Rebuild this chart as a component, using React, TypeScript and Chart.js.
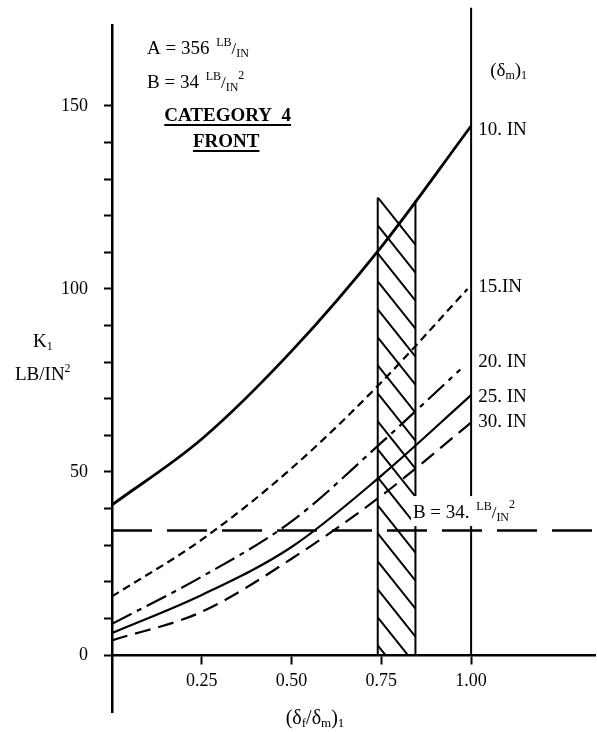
import React, { useEffect, useRef } from "react";
import { Chart, registerables } from "chart.js";

Chart.register(...registerables);

// ---------- data ----------
const xTickValues = [0.25, 0.5, 0.75, 1.0];
const yTickValues = [0, 10, 20, 30, 40, 50, 60, 70, 80, 90, 100, 110, 120, 130, 140, 150];
const yLabeledValues = [0, 50, 100, 150];

const seriesNames = ["10. IN", "15.IN", "20. IN", "25. IN", "30. IN"];

const in10X = [0, 0.25, 0.5, 0.75, 1.0];
const in10Y = [41, 59, 83, 111.5, 144.5];

const in15X = [0, 0.25, 0.5, 0.75, 0.99];
const in15Y = [16, 31.5, 51, 74.5, 100];

const in20X = [0, 0.25, 0.5, 0.75, 0.97];
const in20Y = [8.5, 21.4, 36.5, 58, 78];

const in25X = [0, 0.25, 0.5, 0.75, 1.0];
const in25Y = [6, 16.4, 29.5, 49, 71];

const in30X = [0, 0.25, 0.5, 0.75, 1.0];
const in30Y = [4, 11.8, 26.3, 43.5, 63.5];

const bValue = 34;
const bLineX = [0, 1.345];
const limitX = 1.0;
const limitY = [0, 176.8];
const bandX = [0.74, 0.845];
const bandTop = 125;

// label anchors (value coordinates)
const curveLabelX = 1.02;
const curveLabelY = [143.4, 100.5, 80, 70.5, 63.7];

const FONT = '"Liberation Serif", "Times New Roman", serif';

function zip(xs: number[], ys: number[]) {
  return xs.map((x, i) => ({ x, y: ys[i] }));
}

type Part = { t: string; size: number; dy?: number; bold?: boolean; gap?: number };

function drawRun(ctx: CanvasRenderingContext2D, x: number, y: number, parts: Part[]) {
  let cx = x;
  for (const p of parts) {
    ctx.font = `${p.bold ? "bold " : ""}${p.size}px ${FONT}`;
    ctx.fillText(p.t, cx, y + (p.dy || 0));
    cx += ctx.measureText(p.t).width + (p.gap || 0);
  }
  return cx;
}

const bandPlugin = {
  id: "band",
  beforeDatasetsDraw(chart: any) {
    const { ctx, scales } = chart;
    const x = scales.x, y = scales.y;
    const xs = x.getPixelForValue(bandX[0]);
    const xe = x.getPixelForValue(bandX[1]);
    const yt = y.getPixelForValue(bandTop);
    const yb = y.getPixelForValue(0);
    ctx.save();
    ctx.strokeStyle = "#000";
    ctx.lineWidth = 2;
    ctx.beginPath();
    ctx.rect(xs, yt, xe - xs, yb - yt);
    ctx.clip();
    const slope = 1.25;
    const step = 28;
    ctx.beginPath();
    for (let k = 0; k * step < yb - yt + 10; k++) {
      const y0 = yt + k * step;
      ctx.moveTo(xs, y0);
      ctx.lineTo(xe, y0 + (xe - xs) * slope);
    }
    ctx.stroke();
    ctx.restore();
    ctx.save();
    ctx.strokeStyle = "#000";
    ctx.lineWidth = 2;
    ctx.beginPath();
    ctx.moveTo(xs, yt);
    ctx.lineTo(xs, yb);
    ctx.moveTo(xe, yt + 3);
    ctx.lineTo(xe, yb);
    ctx.stroke();
    ctx.restore();
  },
};

const textPlugin = {
  id: "texts",
  afterDraw(chart: any) {
    const { ctx, scales } = chart;
    const x = scales.x, y = scales.y;
    ctx.save();
    ctx.fillStyle = "#000";
    ctx.strokeStyle = "#000";
    ctx.textAlign = "left";
    ctx.textBaseline = "alphabetic";

    // A and B constants
    const ax = x.getPixelForValue(0.0975);
    drawRun(ctx, ax, y.getPixelForValue(164.2), [
      { t: "A = 356 ", size: 19, gap: 2 },
      { t: "LB", size: 12, dy: -8 },
      { t: "/", size: 17 },
      { t: "IN", size: 12, dy: 3 },
    ]);
    drawRun(ctx, ax, y.getPixelForValue(155), [
      { t: "B = 34 ", size: 19, gap: 2 },
      { t: "LB", size: 12, dy: -8 },
      { t: "/", size: 17 },
      { t: "IN", size: 12, dy: 3 },
      { t: "2", size: 12, dy: -9 },
    ]);

    // category title
    ctx.font = `bold 19px ${FONT}`;
    const drawCentered = (s: string, cxv: number, byv: number) => {
      const w = ctx.measureText(s).width;
      const cx = x.getPixelForValue(cxv);
      const by = y.getPixelForValue(byv);
      ctx.fillText(s, cx - w / 2, by);
      ctx.lineWidth = 2;
      ctx.beginPath();
      ctx.moveTo(cx - w / 2, by + 4);
      ctx.lineTo(cx + w / 2, by + 4);
      ctx.stroke();
    };
    drawCentered("CATEGORY  4", 0.322, 145.9);
    drawCentered("FRONT", 0.318, 138.8);

    // (δm)1 header
    const lx = x.getPixelForValue(curveLabelX);
    drawRun(ctx, x.getPixelForValue(1.053), y.getPixelForValue(159.8) + 6, [
      { t: "(δ", size: 19 },
      { t: "m", size: 12, dy: 3 },
      { t: ")", size: 19 },
      { t: "1", size: 12, dy: 3 },
    ]);

    // curve labels
    ctx.font = `19px ${FONT}`;
    ctx.textBaseline = "middle";
    seriesNames.forEach((n, i) => {
      ctx.fillText(n, lx, y.getPixelForValue(curveLabelY[i]));
    });
    ctx.textBaseline = "alphabetic";

    // B line label with white backing
    const bx = x.getPixelForValue(0.838);
    const bby = y.getPixelForValue(37.4);
    ctx.fillStyle = "#fff";
    ctx.fillRect(bx - 2, bby - 22, 150, 30);
    ctx.fillStyle = "#000";
    drawRun(ctx, bx, bby, [
      { t: "B = 34. ", size: 19, gap: 2 },
      { t: "LB", size: 12, dy: -8 },
      { t: "/", size: 17 },
      { t: "IN", size: 12, dy: 3 },
      { t: "2", size: 12, dy: -10 },
    ]);

    // y-axis title
    drawRun(ctx, 33, 347, [
      { t: "K", size: 19 },
      { t: "1", size: 12, dy: 3 },
    ]);
    drawRun(ctx, 15, 380, [
      { t: "LB/IN", size: 19 },
      { t: "2", size: 12, dy: -8 },
    ]);

    // x-axis title
    const parts: Part[] = [
      { t: "(δ", size: 20 },
      { t: "f", size: 13, dy: 3 },
      { t: "/δ", size: 20 },
      { t: "m", size: 13, dy: 3 },
      { t: ")", size: 20 },
      { t: "1", size: 13, dy: 3 },
    ];
    let tw = 0;
    for (const p of parts) {
      ctx.font = `${p.size}px ${FONT}`;
      tw += ctx.measureText(p.t).width;
    }
    drawRun(ctx, 315 - tw / 2, 724, parts);
    ctx.restore();
  },
};

export default function App() {
  const ref = useRef<HTMLCanvasElement | null>(null);

  useEffect(() => {
    if (!ref.current) return;
    Chart.defaults.font.family = FONT;
    Chart.defaults.color = "#000";
    const black = "#000";
    const chart = new Chart(ref.current, {
      type: "line",
      data: {
        datasets: [
          {
            label: seriesNames[0],
            data: zip(in10X, in10Y),
            borderColor: black,
            borderWidth: 2.8,
            cubicInterpolationMode: "monotone",
          },
          {
            label: seriesNames[1],
            data: zip(in15X, in15Y),
            borderColor: black,
            borderWidth: 2.2,
            borderDash: [8, 5],
            cubicInterpolationMode: "monotone",
          },
          {
            label: seriesNames[2],
            data: zip(in20X, in20Y),
            borderColor: black,
            borderWidth: 2.2,
            borderDash: [22, 6, 5, 6],
            cubicInterpolationMode: "monotone",
          },
          {
            label: seriesNames[3],
            data: zip(in25X, in25Y),
            borderColor: black,
            borderWidth: 2.2,
            cubicInterpolationMode: "monotone",
          },
          {
            label: seriesNames[4],
            data: zip(in30X, in30Y),
            borderColor: black,
            borderWidth: 2.2,
            borderDash: [16, 8],
            cubicInterpolationMode: "monotone",
          },
          {
            label: "B",
            data: bLineX.map((v) => ({ x: v, y: bValue })),
            borderColor: black,
            borderWidth: 2.4,
            borderDash: [40, 15],
          },
          {
            label: "limit",
            data: limitY.map((v) => ({ x: limitX, y: v })),
            borderColor: black,
            borderWidth: 2,
            clip: false,
          } as any,
        ],
      },
      options: {
        animation: false,
        responsive: false,
        maintainAspectRatio: false,
        layout: { padding: { left: 0, right: 2, top: 25, bottom: 20 } },
        plugins: { legend: { display: false }, tooltip: { enabled: false } },
        elements: { point: { radius: 0 }, line: { tension: 0 } },
        scales: {
          x: {
            type: "linear",
            min: 0,
            max: 1.345,
            position: { y: 0 } as any,
            afterFit(s: any) {
              s.height = 0;
              s.paddingLeft = 0;
              s.paddingRight = 0;
            },
            afterBuildTicks(s: any) {
              s.ticks = xTickValues.map((v) => ({ value: v }));
            },
            ticks: {
              callback: (v: any) => Number(v).toFixed(2),
              font: { size: 18, family: FONT },
              color: black,
              padding: 7,
              maxRotation: 0,
              autoSkip: false,
            },
            grid: {
              drawOnChartArea: false,
              drawTicks: true,
              tickLength: 8,
              tickWidth: 2,
              color: black,
            },
            border: { display: true, color: black, width: 2.5 },
          },
          y: {
            type: "linear",
            min: -15.57,
            max: 172.1,
            afterFit(s: any) {
              s.width = 112;
              s.paddingTop = 0;
              s.paddingBottom = 0;
            },
            afterBuildTicks(s: any) {
              s.ticks = yTickValues.map((v) => ({ value: v }));
            },
            ticks: {
              callback: (v: any) => (yLabeledValues.includes(Number(v)) ? String(v) : ""),
              font: { size: 18, family: FONT },
              color: black,
              padding: 16,
              autoSkip: false,
            },
            grid: {
              drawOnChartArea: false,
              drawTicks: true,
              tickLength: 8,
              tickWidth: 2,
              color: black,
            },
            border: { display: true, color: black, width: 2.5 },
          },
        },
      },
      plugins: [bandPlugin, textPlugin],
    });
    return () => chart.destroy();
  }, []);

  return (
    <div style={{ position: "fixed", left: 0, top: 0, width: 597, height: 732, background: "#fff" }}>
      <canvas ref={ref} width={597} height={732} style={{ width: 597, height: 732, display: "block" }} />
    </div>
  );
}
